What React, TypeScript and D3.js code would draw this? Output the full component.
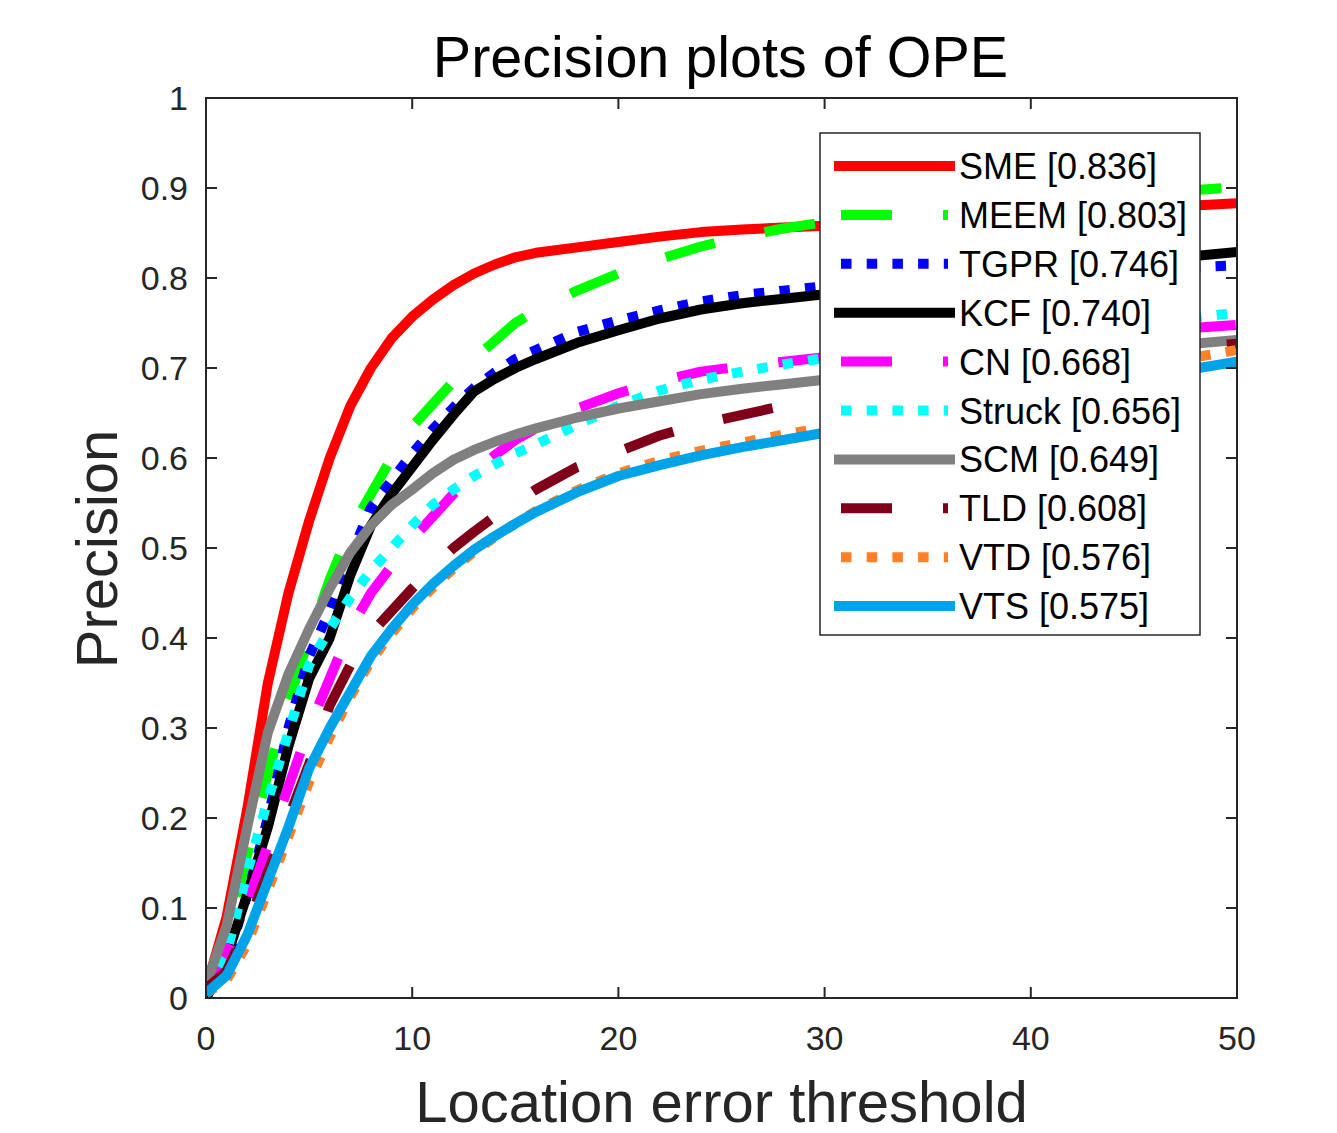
import React from "react";
import * as d3 from "d3";

// ---- data ----
const thresholds = [0, 1, 2, 3, 4, 5, 6, 7, 8, 9, 10, 11, 12, 13, 14, 15, 16, 18, 20, 22, 24, 26, 28, 30, 35, 40, 45, 50];

const trackerNames = ["SME", "MEEM", "TGPR", "KCF", "CN", "Struck", "SCM", "TLD", "VTD", "VTS"];
const trackerScores = ["0.836", "0.803", "0.746", "0.740", "0.668", "0.656", "0.649", "0.608", "0.576", "0.575"];

const smeValues = [0.01, 0.09, 0.21, 0.35, 0.45, 0.53, 0.60, 0.658, 0.700, 0.733, 0.757, 0.776, 0.792, 0.805, 0.815, 0.823, 0.828, 0.834, 0.840, 0.846, 0.851, 0.854, 0.856, 0.858, 0.864, 0.871, 0.877, 0.883];
const meemValues = [0.005, 0.06, 0.16, 0.25, 0.33, 0.40, 0.465, 0.52, 0.56, 0.60, 0.635, 0.66, 0.685, 0.71, 0.73, 0.75, 0.764, 0.786, 0.805, 0.821, 0.835, 0.846, 0.855, 0.862, 0.875, 0.885, 0.893, 0.901];
const tgprValues = [0.0, 0.04, 0.115, 0.20, 0.30, 0.38, 0.43, 0.49, 0.545, 0.575, 0.605, 0.632, 0.656, 0.678, 0.695, 0.71, 0.72, 0.74, 0.753, 0.764, 0.774, 0.781, 0.786, 0.791, 0.799, 0.805, 0.81, 0.814];
const kcfValues = [0.0, 0.045, 0.115, 0.19, 0.28, 0.355, 0.40, 0.47, 0.525, 0.56, 0.59, 0.62, 0.648, 0.674, 0.688, 0.70, 0.71, 0.728, 0.742, 0.755, 0.765, 0.772, 0.777, 0.782, 0.795, 0.807, 0.818, 0.829];
const cnValues = [0.01, 0.05, 0.105, 0.17, 0.235, 0.30, 0.355, 0.41, 0.45, 0.48, 0.51, 0.535, 0.56, 0.585, 0.603, 0.62, 0.633, 0.655, 0.672, 0.685, 0.696, 0.702, 0.707, 0.712, 0.723, 0.732, 0.740, 0.748];
const struckValues = [0.01, 0.05, 0.14, 0.22, 0.295, 0.37, 0.41, 0.445, 0.475, 0.50, 0.525, 0.548, 0.565, 0.58, 0.593, 0.605, 0.615, 0.637, 0.658, 0.675, 0.687, 0.696, 0.704, 0.711, 0.726, 0.739, 0.75, 0.761];
const scmValues = [0.015, 0.08, 0.19, 0.295, 0.36, 0.41, 0.455, 0.495, 0.525, 0.548, 0.565, 0.583, 0.598, 0.609, 0.618, 0.626, 0.633, 0.645, 0.655, 0.663, 0.671, 0.677, 0.682, 0.687, 0.699, 0.711, 0.721, 0.731];
const tldValues = [0.01, 0.03, 0.08, 0.14, 0.20, 0.26, 0.325, 0.37, 0.405, 0.43, 0.455, 0.478, 0.50, 0.518, 0.535, 0.55, 0.565, 0.59, 0.607, 0.625, 0.638, 0.648, 0.658, 0.667, 0.688, 0.705, 0.717, 0.727];
const vtdValues = [0.005, 0.02, 0.06, 0.12, 0.18, 0.24, 0.29, 0.335, 0.375, 0.405, 0.433, 0.456, 0.477, 0.496, 0.512, 0.527, 0.541, 0.564, 0.583, 0.597, 0.608, 0.617, 0.626, 0.634, 0.656, 0.68, 0.70, 0.72];
const vtsValues = [0.005, 0.025, 0.07, 0.13, 0.19, 0.255, 0.30, 0.34, 0.38, 0.41, 0.437, 0.46, 0.48, 0.498, 0.513, 0.527, 0.54, 0.562, 0.58, 0.592, 0.603, 0.612, 0.62, 0.628, 0.648, 0.668, 0.688, 0.707];

const xTicks = [0, 10, 20, 30, 40, 50];
const yTicks = [0, 0.1, 0.2, 0.3, 0.4, 0.5, 0.6, 0.7, 0.8, 0.9, 1];

// ---- styles ----
const seriesValues = [smeValues, meemValues, tgprValues, kcfValues, cnValues, struckValues, scmValues, tldValues, vtdValues, vtsValues];
const seriesColors = ["#ff0000", "#00ff00", "#0000ff", "#000000", "#ff00ff", "#00ffff", "#808080", "#80001a", "#ff8026", "#00a2e8"];
const DASHED = "51 51";
const DOTTED = "10.5 15.2";
const seriesDash = ["", DASHED, DOTTED, "", DASHED, DOTTED, "", DASHED, DOTTED, ""];

const W = 1337;
const H = 1133;
const plot = { left: 206, right: 1237, top: 98, bottom: 998 };
const FONT = "'Liberation Sans', Arial, Helvetica, sans-serif";
const AXIS_COLOR = "#262626";
const LW = 10;

export default function App() {
  const x = d3.scaleLinear().domain([0, 50]).range([plot.left, plot.right]);
  const y = d3.scaleLinear().domain([0, 1]).range([plot.bottom, plot.top]);
  const line = d3
    .line<[number, number]>()
    .x((d) => x(d[0]))
    .y((d) => y(d[1]));

  const series = trackerNames.map((name, i) => ({
    name,
    score: trackerScores[i],
    color: seriesColors[i],
    dash: seriesDash[i],
    points: thresholds.map((t, j) => [t, seriesValues[i][j]] as [number, number]),
  }));

  const legend = { x0: 820, y0: 133, x1: 1200, y1: 635, rowTop: 166, rowStep: 48.9 };
  const tickLen = 11;

  return (
    <svg
      width={W}
      height={H}
      style={{ position: "absolute", left: 0, top: 0, background: "#fff" }}
      fontFamily={FONT}
    >
      <rect x={0} y={0} width={W} height={H} fill="#fff" />
      <defs>
        <clipPath id="plotclip">
          <rect x={plot.left} y={plot.top} width={plot.right - plot.left} height={plot.bottom - plot.top} />
        </clipPath>
      </defs>

      {/* title */}
      <text x={(plot.left + plot.right) / 2 - 1} y={77} textAnchor="middle" fontSize={57.5} fill="#000">
        Precision plots of OPE
      </text>

      {/* curves */}
      <g clipPath="url(#plotclip)">
        {series.map((s) => (
          <path
            key={s.name}
            d={line(s.points) || ""}
            fill="none"
            stroke={s.color}
            strokeWidth={LW}
            strokeDasharray={s.dash || undefined}
            strokeLinejoin="round"
            strokeLinecap="butt"
          />
        ))}
      </g>

      {/* axes box */}
      <rect
        x={plot.left}
        y={plot.top}
        width={plot.right - plot.left}
        height={plot.bottom - plot.top}
        fill="none"
        stroke={AXIS_COLOR}
        strokeWidth={2}
      />
      {xTicks.map((t) => (
        <g key={"xt" + t}>
          <line x1={x(t)} x2={x(t)} y1={plot.bottom} y2={plot.bottom - tickLen} stroke={AXIS_COLOR} strokeWidth={2} />
          <line x1={x(t)} x2={x(t)} y1={plot.top} y2={plot.top + tickLen} stroke={AXIS_COLOR} strokeWidth={2} />
          <text x={x(t)} y={plot.bottom + 52} textAnchor="middle" fontSize={34} fill={AXIS_COLOR}>
            {String(t)}
          </text>
        </g>
      ))}
      {yTicks.map((t) => (
        <g key={"yt" + t}>
          <line x1={plot.left} x2={plot.left + tickLen} y1={y(t)} y2={y(t)} stroke={AXIS_COLOR} strokeWidth={2} />
          <line x1={plot.right} x2={plot.right - tickLen} y1={y(t)} y2={y(t)} stroke={AXIS_COLOR} strokeWidth={2} />
          <text x={188} y={y(t) + 12} textAnchor="end" fontSize={34} fill={AXIS_COLOR}>
            {d3.format("~g")(t)}
          </text>
        </g>
      ))}

      {/* axis labels */}
      <text x={(plot.left + plot.right) / 2} y={1122} textAnchor="middle" fontSize={58} fill={AXIS_COLOR}>
        Location error threshold
      </text>
      <text
        transform={`translate(117, ${(plot.top + plot.bottom) / 2 + 1}) rotate(-90)`}
        textAnchor="middle"
        fontSize={58}
        fill={AXIS_COLOR}
      >
        Precision
      </text>

      {/* legend */}
      <rect
        x={legend.x0}
        y={legend.y0}
        width={legend.x1 - legend.x0}
        height={legend.y1 - legend.y0}
        fill="#fff"
        stroke={AXIS_COLOR}
        strokeWidth={1.5}
      />
      {series.map((s, i) => {
        const cy = legend.rowTop + i * legend.rowStep;
        const solid = !s.dash;
        return (
          <g key={"lg" + s.name}>
            <line
              x1={solid ? 834 : 841}
              x2={solid ? 955 : 948}
              y1={cy}
              y2={cy}
              stroke={s.color}
              strokeWidth={LW}
              strokeDasharray={s.dash || undefined}
            />
            <text x={959} y={cy + 13} fontSize={36} fill="#000">
              {`${s.name} [${s.score}]`}
            </text>
          </g>
        );
      })}
    </svg>
  );
}
